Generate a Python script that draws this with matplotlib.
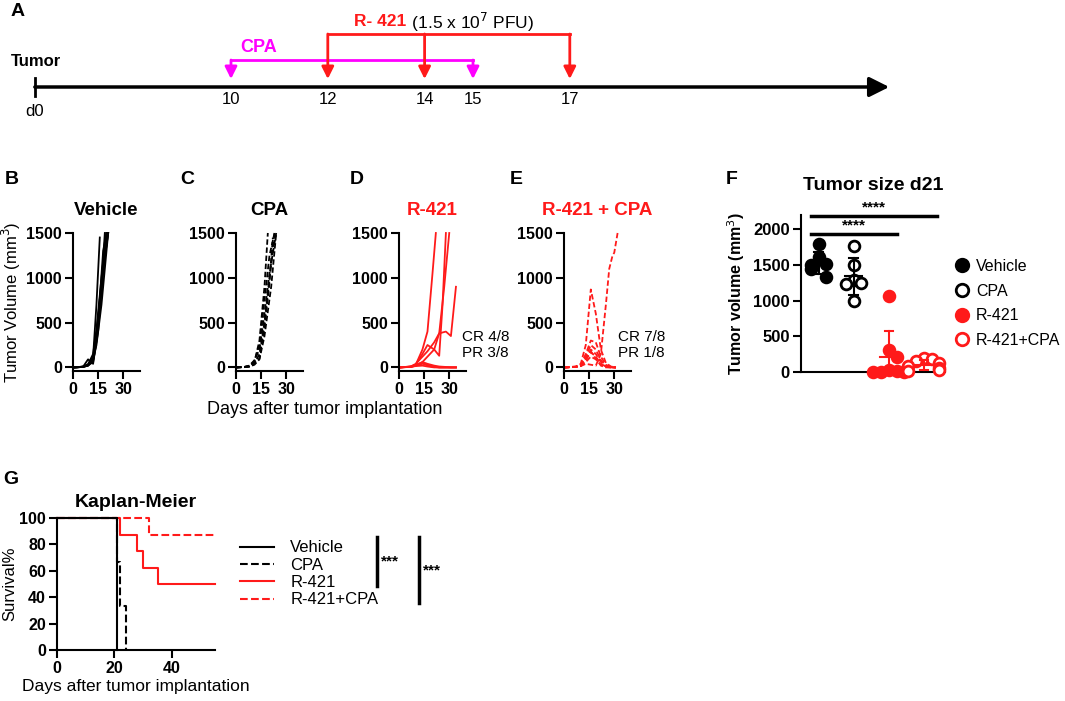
import numpy as np
import matplotlib.pyplot as plt
from matplotlib.lines import Line2D

plt.rcParams['font.family'] = ['Liberation Sans', 'DejaVu Sans']

# ---------------- data ----------------
# A: schedule
cpa_days = [10, 15]
r421_days = [12, 14, 17]
sched_ticks = [10, 12, 14, 15, 17]

# B-E: tumor growth, one list per mouse (days, volume mm3)
veh_days = [[0, 3, 6, 9, 12, 14, 16], [0, 3, 6, 9, 12, 14, 17, 19], [0, 3, 6, 9, 12, 14, 17, 20],
            [0, 3, 6, 9, 12, 14, 17, 20], [0, 3, 6, 9, 12, 14, 17, 21], [0, 3, 6, 9, 12, 14, 17, 21],
            [0, 3, 6, 9, 12, 15, 18, 21], [0, 3, 6, 9, 12, 15, 18, 20]]
veh_vol = [[0, 3, 8, 30, 120, 700, 1450], [0, 2, 6, 20, 90, 350, 900, 1500], [0, 4, 10, 35, 150, 420, 1000, 1500],
           [0, 3, 7, 90, 40, 300, 850, 1500], [0, 2, 5, 20, 80, 250, 700, 1500], [0, 3, 9, 28, 110, 380, 950, 1500],
           [0, 2, 6, 22, 60, 400, 1100, 1500], [0, 3, 7, 30, 100, 500, 1300, 1500]]

cpa_days_g = [[0, 5, 8, 11, 14, 17, 19], [0, 5, 8, 11, 14, 17, 20, 23], [0, 5, 8, 11, 14, 17, 20, 24],
              [0, 5, 8, 11, 14, 17, 20, 22], [0, 5, 8, 11, 14, 17, 21, 24], [0, 5, 8, 11, 14, 17, 20, 23]]
cpa_vol = [[0, 5, 15, 60, 300, 900, 1500], [0, 4, 10, 40, 150, 500, 1000, 1500], [0, 6, 20, 80, 200, 600, 1050, 1500],
           [0, 5, 12, 50, 100, 450, 950, 1450], [0, 3, 9, 30, 90, 350, 900, 1500], [0, 5, 14, 70, 250, 750, 1250, 1500]]

r_days_g = [[0, 7, 10, 14, 17, 20, 22], [0, 7, 10, 14, 17, 21, 24, 26, 28], [0, 7, 10, 14, 17, 21, 24, 27, 30],
            [0, 7, 10, 14, 17, 21, 24, 28, 31, 34], [0, 7, 10, 14, 17, 21, 24, 28, 31, 34],
            [0, 7, 10, 14, 17, 21, 24, 28, 31, 34], [0, 7, 10, 14, 17, 21, 24, 28, 31, 34],
            [0, 7, 10, 14, 17, 21, 24, 28, 31, 34]]
r_vol = [[0, 10, 30, 200, 400, 1050, 1500], [0, 8, 30, 150, 250, 200, 130, 700, 1500],
         [0, 10, 40, 120, 180, 280, 380, 900, 1500], [0, 6, 20, 60, 120, 200, 380, 400, 350, 900],
         [0, 8, 30, 50, 20, 5, 0, 0, 0, 0], [0, 5, 20, 40, 30, 10, 0, 0, 0, 0],
         [0, 6, 15, 20, 10, 0, 0, 0, 0, 0], [0, 7, 25, 60, 40, 20, 10, 5, 0, 0]]

rc_days_g = [[0, 7, 10, 13, 16, 19, 22, 25, 28, 31]] * 7 + [[0, 7, 10, 13, 16, 19, 22, 25, 27, 29, 30, 32]]
rc_vol = [[0, 10, 40, 250, 870, 600, 200, 50, 10, 0], [0, 8, 30, 150, 300, 280, 120, 30, 5, 0],
          [0, 6, 25, 120, 250, 200, 80, 20, 0, 0], [0, 5, 20, 100, 200, 150, 60, 10, 0, 0],
          [0, 7, 20, 80, 170, 120, 40, 10, 0, 0], [0, 5, 15, 60, 120, 90, 30, 5, 0, 0],
          [0, 6, 20, 90, 180, 100, 20, 0, 0, 0], [0, 5, 15, 40, 30, 20, 150, 700, 1100, 1250, 1280, 1500]]

# F: tumor size d21
groups = ['Vehicle', 'CPA', 'R-421', 'R-421+CPA']
size_veh = [1790, 1610, 1510, 1500, 1440, 1330]
size_cpa = [1760, 1500, 1290, 1250, 1230, 1000]
size_r = [1070, 310, 210, 30, 10, 0, 0, 0]
size_rc = [190, 180, 150, 120, 80, 50, 30, 10]

# G: Kaplan-Meier
km_veh_t, km_veh_s = [0, 21], [100, 0]
km_cpa_t, km_cpa_s = [0, 21, 22, 24], [100, 66.7, 33.3, 0]
km_r_t, km_r_s = [0, 22, 28, 30, 35, 55], [100, 87.5, 75, 62.5, 50, 50]
km_rc_t, km_rc_s = [0, 32, 55], [100, 87.5, 87.5]

RED = '#FF1A1A'
MAG = '#FF00FF'
W, H = 1065, 701

fig = plt.figure(figsize=(W / 100, H / 100), dpi=100)


def box(l, t, r, b):
    return [l / W, 1 - b / H, (r - l) / W, (b - t) / H]


def bold_ticks(ax, size=11.5):
    ax.tick_params(width=1.5, length=6, labelsize=size, pad=2)
    for lab in ax.get_xticklabels() + ax.get_yticklabels():
        lab.set_fontweight('bold')
    for s in ['top', 'right']:
        ax.spines[s].set_visible(False)
    for s in ['left', 'bottom']:
        ax.spines[s].set_linewidth(1.5)


# ---------------- A: schedule ----------------
axA = fig.add_axes([0, 1 - 125 / H, 1, 125 / H])
axA.set_xlim(253 / 48.4, (W + 253) / 48.4)
axA.set_ylim(125, 0)
axA.axis('off')
x0 = axA.get_xlim()[0] + 0.72
axA.annotate('', xy=(23.6, 87), xytext=(x0, 87),
             arrowprops=dict(arrowstyle='-|>', lw=2.5, color='k', mutation_scale=30, shrinkA=0, shrinkB=0))
axA.plot([x0, x0], [78, 96], color='k', lw=2)
for d in sched_ticks:
    axA.text(d, 100, str(d), ha='center', va='center', fontsize=12)
axA.text(x0, 112, 'd0', ha='center', va='center', fontsize=12)
axA.text(x0 - 0.5, 62, 'Tumor', ha='left', va='center', fontsize=12, fontweight='bold')
axA.text(x0 - 0.5, 12, 'A', ha='left', va='center', fontsize=14, fontweight='bold')

axA.plot([min(cpa_days), max(cpa_days)], [60, 60], color=MAG, lw=2)
for d in cpa_days:
    axA.annotate('', xy=(d, 79), xytext=(d, 60),
                 arrowprops=dict(arrowstyle='-|>', lw=2, color=MAG, mutation_scale=18, shrinkA=0, shrinkB=0))
axA.text(min(cpa_days) + 0.2, 47, 'CPA', color=MAG, fontsize=13, fontweight='bold', ha='left', va='center')

axA.plot([min(r421_days), max(r421_days)], [34, 34], color=RED, lw=2)
for d in r421_days:
    axA.annotate('', xy=(d, 79), xytext=(d, 34),
                 arrowprops=dict(arrowstyle='-|>', lw=2, color=RED, mutation_scale=18, shrinkA=0, shrinkB=0))
tr = axA.text(12.55, 22, 'R- 421', color=RED, fontsize=12.5, fontweight='bold', ha='left', va='center')
axA.annotate(' (1.5 x 10$^7$ PFU)', xycoords=tr, xy=(1, 0.5), va='center', ha='left', fontsize=12.5)

# ---------------- B-E: growth curves ----------------
panels = [('B', 'Vehicle', 'k', '-', veh_days, veh_vol, 73, 12),
          ('C', 'CPA', 'k', '--', cpa_days_g, cpa_vol, 236, 187),
          ('D', 'R-421', RED, '-', r_days_g, r_vol, 399, 357),
          ('E', 'R-421 + CPA', RED, '--', rc_days_g, rc_vol, 564, 516)]
growth_axes = []
for letter, title, col, ls, dd, vv, left, lx in panels:
    ax = fig.add_axes(box(left, 233, left + 67, 371))
    for d, v in zip(dd, vv):
        ax.plot(d, v, color=col, ls=ls, lw=1.3, clip_on=False,
                dashes=(3, 1.5) if ls == '--' else (None, None))
    ax.set_xlim(0, 40)
    ax.set_ylim(-40, 1500)
    ax.set_xticks([0, 15, 30])
    ax.set_yticks([0, 500, 1000, 1500])
    bold_ticks(ax)
    ax.set_title(title, color=col, fontsize=13.5, fontweight='bold', pad=13)
    fig.text(lx / W, 1 - 180 / H, letter, fontsize=14, fontweight='bold', ha='center', va='center')
    growth_axes.append(ax)

growth_axes[0].set_ylabel('Tumor Volume (mm$^3$)', fontsize=12)
growth_axes[0].yaxis.set_label_coords(-0.75, 0.5)
growth_axes[2].text(37.5, 339, 'CR 4/8', fontsize=11, va='center')
growth_axes[2].text(37.5, 160, 'PR 3/8', fontsize=11, va='center')
growth_axes[3].text(32.5, 339, 'CR 7/8', fontsize=11, va='center')
growth_axes[3].text(32.5, 160, 'PR 1/8', fontsize=11, va='center')
fig.text(325 / W, 1 - 410 / H, 'Days after tumor implantation', fontsize=13, ha='center', va='center')

# ---------------- F: tumor size d21 ----------------
axF = fig.add_axes(box(801, 215, 945, 372))
sizes = [size_veh, size_cpa, size_r, size_rc]
cols = ['k', 'k', RED, RED]
filled = [True, False, True, False]
for i, (vals, c, f) in enumerate(zip(sizes, cols, filled)):
    vals = np.array(vals, dtype=float)
    offs = []
    for k, v in enumerate(vals):
        n = int(np.sum(np.abs(vals[:k] - v) < 120))
        offs.append(((n + 1) // 2) * (1 if n % 2 else -1) * 0.22)
    axF.scatter(i + np.array(offs), vals, s=60, facecolor=c if f else 'white', edgecolor=c,
                linewidth=2, zorder=3, clip_on=False)
    m, sd = vals.mean(), vals.std(ddof=1)
    axF.plot([i - 0.25, i + 0.25], [m, m], color=c, lw=1.5, zorder=4)
    axF.plot([i, i], [max(m - sd, 0), m + sd], color=c, lw=1.5, zorder=4)
    axF.plot([i - 0.12, i + 0.12], [m + sd, m + sd], color=c, lw=1.5, zorder=4)
    if m - sd > 0:
        axF.plot([i - 0.12, i + 0.12], [m - sd, m - sd], color=c, lw=1.5, zorder=4)
axF.set_xlim(-0.5, 3.6)
axF.set_ylim(0, 2200)
axF.set_xticks([])
axF.set_yticks([0, 500, 1000, 1500, 2000])
bold_ticks(axF, 12)
axF.set_ylabel('Tumor volume (mm$^3$)', fontsize=11.5, fontweight='bold')
axF.yaxis.set_label_coords(-0.375, 0.5)
axF.set_title('Tumor size d21', fontsize=14, fontweight='bold', pad=18)
axF.plot([-0.22, 3.37], [2180, 2180], color='k', lw=2.5, clip_on=False)
axF.text(1.57, 2210, '****', ha='center', va='bottom', fontsize=11, fontweight='bold')
axF.plot([-0.22, 2.23], [1930, 1930], color='k', lw=2.5, clip_on=False)
axF.text(1.0, 1960, '****', ha='center', va='bottom', fontsize=11, fontweight='bold')
hF = [Line2D([], [], ls='', marker='o', ms=9, mfc=c if f else 'white', mec=c, mew=2)
      for c, f in zip(cols, filled)]
axF.legend(hF, groups, loc='upper left', bbox_to_anchor=(1.06, 0.72), frameon=False, fontsize=11.5,
           handlelength=1, handletextpad=0.4, labelspacing=0.6, borderpad=0, borderaxespad=0)
fig.text(732 / W, 1 - 180 / H, 'F', fontsize=14, fontweight='bold', ha='center', va='center')

# ---------------- G: Kaplan-Meier ----------------
axG = fig.add_axes(box(57, 518, 215, 650))
axG.plot(km_r_t, km_r_s, color=RED, lw=1.5, drawstyle='steps-post', label='R-421', clip_on=False)
axG.plot(km_rc_t, km_rc_s, color=RED, lw=1.5, ls='--', drawstyle='steps-post', label='R-421+CPA', clip_on=False)
axG.plot(km_cpa_t, km_cpa_s, color='k', lw=1.5, ls='--', drawstyle='steps-post', label='CPA', clip_on=False)
axG.plot(km_veh_t, km_veh_s, color='k', lw=1.5, drawstyle='steps-post', label='Vehicle', clip_on=False)
axG.set_xlim(0, 55)
axG.set_ylim(0, 100)
axG.set_xticks([0, 20, 40])
axG.set_yticks([0, 20, 40, 60, 80, 100])
bold_ticks(axG)
axG.set_ylabel('Survival%', fontsize=12)
axG.yaxis.set_label_coords(-0.25, 0.5)
axG.set_xlabel('Days after tumor implantation', fontsize=12.5, labelpad=2)
axG.set_title('Kaplan-Meier', fontsize=14, fontweight='bold', pad=8)
hs, ls_ = axG.get_legend_handles_labels()
order = [3, 2, 0, 1]
axG.legend([hs[i] for i in order], [ls_[i] for i in order], loc='upper left', bbox_to_anchor=(1.16, 0.83),
           frameon=False, fontsize=12, handlelength=2.0, handletextpad=1.0, labelspacing=0.14,
           borderpad=0, borderaxespad=0)
axG.plot([2.025, 2.025], [0.856, 0.485], color='k', lw=2.5, transform=axG.transAxes, clip_on=False)
axG.text(2.05, 0.67, '***', transform=axG.transAxes, fontsize=11, fontweight='bold', va='center')
axG.plot([2.29, 2.29], [0.856, 0.356], color='k', lw=2.5, transform=axG.transAxes, clip_on=False)
axG.text(2.315, 0.60, '***', transform=axG.transAxes, fontsize=11, fontweight='bold', va='center')
fig.text(11 / W, 1 - 480 / H, 'G', fontsize=14, fontweight='bold', ha='center', va='center')

fig.savefig('out.png', dpi=100)
